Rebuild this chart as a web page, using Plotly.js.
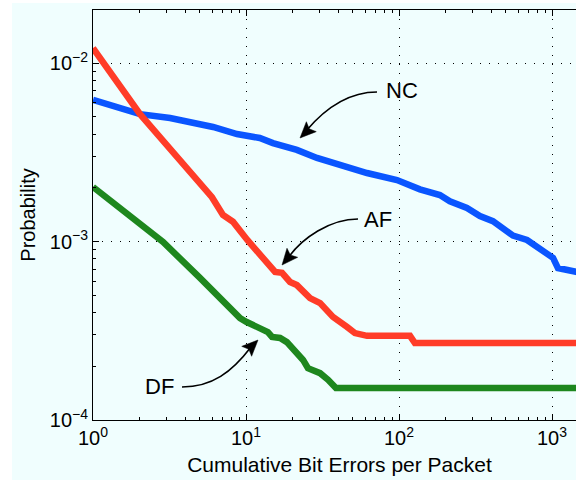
<!DOCTYPE html>
<html>
<head>
<meta charset="utf-8">
<script src="https://cdn.plot.ly/plotly-3.0.1.min.js"></script>
<style>
  html, body { margin: 0; padding: 0; background: #ffffff; overflow: hidden; width: 576px; height: 483px; }
  #chart { position: absolute; left: 12px; top: 3px; width: 574px; height: 477px; }
</style>
</head>
<body>
<div id="chart"></div>
<script>
// ---- data ----
const ncX = [1.0, 2.03, 3.19, 4.31, 6.09, 8.73, 12.3, 15.0, 21.5, 29.1, 41.1, 61.8, 97, 137, 185, 215, 278, 338, 411, 556, 687, 835, 1016, 1094, 1253, 1435, 1660];
const ncY = [0.00621, 0.00517, 0.00492, 0.00467, 0.00438, 0.0040, 0.0038, 0.00356, 0.00326, 0.00294, 0.00268, 0.00242, 0.00221, 0.00196, 0.00182, 0.00168, 0.00154, 0.00139, 0.00130, 0.00108, 0.00102, 0.00092, 0.00081, 0.00071, 0.00069, 0.00067, 0.00066];

const afX = [1.0, 1.29, 2.03, 2.96, 4.31, 5.99, 7.07, 8.22, 10.2, 12.9, 15.5, 17.2, 19.4, 21.5, 26.2, 30.5, 37.0, 45.7, 51.5, 61.8, 118, 127, 1660];
const afY = [0.01213, 0.00891, 0.00517, 0.00356, 0.00242, 0.00177, 0.00141, 0.00129, 0.00102, 0.00081, 0.000675, 0.000667, 0.000593, 0.00057, 0.000482, 0.000452, 0.000378, 0.000332, 0.000307, 0.000296, 0.000296, 0.00027, 0.00027];

const dfX = [1.0, 1.745, 2.87, 5.0, 7.86, 9.14, 10.1, 11.5, 12.9, 13.9, 14.8, 16.7, 18.5, 20.0, 21.5, 23.6, 25.4, 28.2, 30.5, 34.4, 37.0, 38.7, 1660];
const dfY = [0.00202, 0.00139, 0.000994, 0.000625, 0.000423, 0.000372, 0.000354, 0.000336, 0.000327, 0.000311, 0.000292, 0.000288, 0.000273, 0.000256, 0.000237, 0.000217, 0.000195, 0.000188, 0.000183, 0.000168, 0.000155, 0.000151, 0.000151];

const xTickVals = [1, 10, 100, 1000];
const xTickText = ['10<sup>0</sup>', '10<sup>1</sup>', '10<sup>2</sup>', '10<sup>3</sup>'];
const yTickVals = [1e-4, 1e-3, 1e-2];
const yTickText = ['10<sup>\u22124</sup>', '10<sup>\u22123</sup>', '10<sup>\u22122</sup>'];

const seriesNames = ['NC', 'AF', 'DF'];
const seriesColors = ['rgb(10,85,255)', 'rgb(255,60,40)', 'rgb(30,135,30)'];

// minor tick positions (2..9 within each decade)
function minorVals(lo, hi) {
  const out = [];
  for (let e = lo; e <= hi; e++) for (let m = 2; m <= 9; m++) out.push(m * Math.pow(10, e));
  return out;
}

const FONT = 'Liberation Sans, Arial, Helvetica, sans-serif';
const BG = 'rgb(240,254,254)';

const traces = [
  { x: ncX, y: ncY, name: seriesNames[0] },
  { x: afX, y: afY, name: seriesNames[1] },
  { x: dfX, y: dfY, name: seriesNames[2] }
].map((t, i) => Object.assign(t, {
  type: 'scatter', mode: 'lines', showlegend: false,
  line: { color: seriesColors[i], width: 6.5 }, cliponaxis: true
}));

// ---- callout geometry (page pixels -> paper) ----
const PL = 93, PR = 586, PT = 10, PB = 420;
const px = v => (v - PL) / (PR - PL);
const py = v => (PB - v) / (PB - PT);
function pt(x, y) { return px(x) + ',' + py(y); }
function curve(p) {
  return 'M' + pt(p[0], p[1]) + ' C' + pt(p[2], p[3]) + ' ' + pt(p[4], p[5]) + ' ' + pt(p[6], p[7]);
}
function head(tip, dir) {
  const len = Math.hypot(dir[0], dir[1]);
  const d = [dir[0] / len, dir[1] / len];
  const n = [-d[1], d[0]];
  const L = 16, W = 7, N = 3;
  const T = tip;
  const b1 = [T[0] - L * d[0] + W * n[0], T[1] - L * d[1] + W * n[1]];
  const b2 = [T[0] - L * d[0] - W * n[0], T[1] - L * d[1] - W * n[1]];
  const m = [T[0] - (L - N) * d[0], T[1] - (L - N) * d[1]];
  return 'M' + pt(T[0], T[1]) + ' L' + pt(b1[0], b1[1]) + ' L' + pt(m[0], m[1]) + ' L' + pt(b2[0], b2[1]) + ' Z';
}
const callouts = [
  { label: 'NC', tx: 402, ty: 91, c: [377, 92, 345, 92, 322, 112, 306, 131], tip: [300, 138], dir: [-13, 13] },
  { label: 'AF', tx: 378, ty: 219, c: [358, 219, 330, 219, 302, 238, 288, 258], tip: [282, 265], dir: [-11, 13] },
  { label: 'DF', tx: 159, ty: 386, c: [182, 387, 212, 387, 232, 372, 251, 347], tip: [258, 340], dir: [15, -15] }
];
const shapes = [];
callouts.forEach(c => {
  shapes.push({ type: 'path', xref: 'paper', yref: 'paper', path: curve(c.c),
    line: { color: 'black', width: 1.6 } });
  shapes.push({ type: 'path', xref: 'paper', yref: 'paper', path: head(c.tip, c.dir),
    fillcolor: 'black', line: { color: 'black', width: 0.5 } });
});
const annotations = callouts.map(c => ({
  xref: 'paper', yref: 'paper', x: px(c.tx), y: py(c.ty), text: c.label,
  showarrow: false, font: { family: FONT, size: 22, color: 'black' }, xanchor: 'center', yanchor: 'middle'
}));

const axisCommon = {
  type: 'log', showline: true, linecolor: 'black', linewidth: 1, mirror: 'ticks',
  ticks: 'inside', ticklen: 6, tickwidth: 1, tickcolor: 'black', tickmode: 'array',
  showgrid: true, gridcolor: 'black', gridwidth: 1, griddash: '1px,8px',
  zeroline: false, tickfont: { family: FONT, size: 20, color: 'black' }
};

const layout = {
  width: 574, height: 477,
  margin: { l: 81, r: 0, t: 7, b: 60, pad: 0 },
  paper_bgcolor: BG, plot_bgcolor: BG,
  font: { family: FONT, color: 'black' },
  xaxis: Object.assign({}, axisCommon, {
    range: [0, (PR - PL) / 153],
    tickvals: xTickVals, ticktext: xTickText,
    minor: { tickmode: 'array', tickvals: minorVals(0, 3), ticks: 'inside', ticklen: 3, tickcolor: 'black', showgrid: false },
    title: { text: 'Cumulative Bit Errors per Packet', font: { family: FONT, size: 21, color: 'black' }, standoff: 9 }
  }),
  yaxis: Object.assign({}, axisCommon, {
    range: [-4, -4 + (PB - PT) / 178.5],
    tickvals: yTickVals, ticktext: yTickText,
    minor: { tickmode: 'array', tickvals: minorVals(-4, -2), ticks: 'inside', ticklen: 3, tickcolor: 'black', showgrid: false },
    title: { text: 'Probability', font: { family: FONT, size: 20, color: 'black' }, standoff: 8 }
  }),
  shapes: shapes,
  annotations: annotations
};

Plotly.newPlot('chart', traces, layout, { displayModeBar: false, staticPlot: true });
</script>
</body>
</html>
